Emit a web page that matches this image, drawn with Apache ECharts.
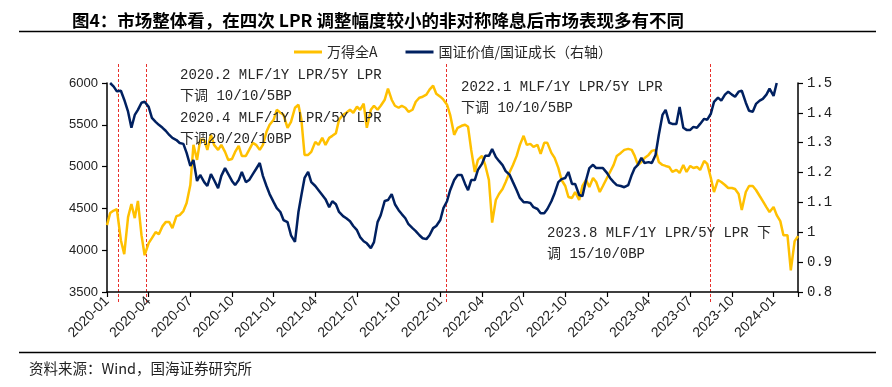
<!DOCTYPE html>
<html><head><meta charset="utf-8">
<script src="https://cdn.jsdelivr.net/npm/echarts@6/dist/echarts.min.js"></script>
<style>html,body{margin:0;padding:0;background:#fff}#c{width:892px;height:387px}</style>
</head><body><div id="c"></div>
<script>
// ---- data ----
const months = [
 '2020-01','2020-02','2020-03','2020-04','2020-05','2020-06','2020-07','2020-08','2020-09','2020-10','2020-11','2020-12',
 '2021-01','2021-02','2021-03','2021-04','2021-05','2021-06','2021-07','2021-08','2021-09','2021-10','2021-11','2021-12',
 '2022-01','2022-02','2022-03','2022-04','2022-05','2022-06','2022-07','2022-08','2022-09','2022-10','2022-11','2022-12',
 '2023-01','2023-02','2023-03','2023-04','2023-05','2023-06','2023-07','2023-08','2023-09','2023-10','2023-11','2023-12',
 '2024-01','2024-02'];
const weekDays = ['01','08','16','23'];
const dates = months.flatMap(m => weekDays.map(d => m + '-' + d));

// 万得全A (left axis)
const wdA = [
 4300,4444,4474,4490,4120,3952,4396,4552,4384,4590,
 4180,3940,4084,4144,4216,4192,4288,4336,4336,4264,
 4408,4420,4468,4564,4780,5260,5080,5320,5320,5200,
 5380,5260,5200,5260,5176,5080,5090,5176,5248,5128,
 5128,5200,5284,5260,5200,5260,5416,5500,5560,5680,
 5644,5620,5464,5536,5704,5740,5560,5140,5140,5176,
 5296,5260,5344,5260,5344,5368,5400,5560,5620,5644,
 5680,5644,5716,5680,5752,5464,5680,5728,5680,5728,
 5800,5932,5800,5728,5704,5728,5704,5656,5680,5776,
 5824,5836,5860,5920,5968,5872,5836,5800,5740,5620,
 5380,5464,5488,5500,5476,5200,4936,5080,5128,5020,
 4840,4330,4600,4672,4732,4816,4936,5020,5128,5260,
 5368,5260,5272,5236,5260,5152,5284,5284,5164,5104,
 4984,4840,4768,4636,4624,4696,4600,4768,4840,4756,
 4864,4816,4696,4768,4864,4936,5020,5128,5164,5200,
 5212,5200,5128,5020,5056,5104,5140,5188,5200,5056,
 5020,5008,4996,4936,4960,4924,5020,4936,5008,4984,
 4996,4960,5068,5032,4864,4696,4840,4816,4780,4744,
 4744,4732,4672,4480,4696,4768,4768,4720,4648,4588,
 4516,4456,4516,4420,4348,4180,4180,3760,4108,4168];

// 国证价值/国证成长 (right axis)
const gzRatio = [
 null,1.500,1.488,1.472,1.474,1.444,1.404,1.350,1.393,1.410,
 1.434,1.437,1.420,1.383,1.370,1.360,1.350,1.340,1.326,1.316,
 1.309,1.299,1.296,1.266,1.222,1.242,1.172,1.192,1.168,1.155,
 1.195,1.175,1.148,1.189,1.215,1.195,1.172,1.158,1.175,1.202,
 1.168,1.175,1.195,1.212,1.232,1.189,1.155,1.128,1.101,1.081,
 1.068,1.041,1.034,0.990,0.968,1.068,1.125,1.182,1.202,1.168,
 1.155,1.141,1.125,1.111,1.084,1.104,1.094,1.068,1.054,1.047,
 1.037,1.021,1.007,0.984,0.970,0.963,0.947,0.967,1.034,1.057,
 1.105,1.108,1.128,1.094,1.074,1.061,1.047,1.027,1.014,1.004,
 0.990,0.980,0.977,0.990,1.014,1.021,1.041,1.081,1.104,1.141,
 1.175,1.192,1.192,1.162,1.141,1.175,1.175,1.209,1.229,1.256,
 1.256,1.279,1.252,1.239,1.225,1.205,1.192,1.168,1.141,1.115,
 1.101,1.101,1.098,1.084,1.078,1.064,1.064,1.078,1.104,1.131,
 1.168,1.178,1.182,1.202,1.162,1.162,1.125,1.121,1.175,1.215,
 1.226,1.215,1.215,1.215,1.199,1.182,1.168,1.158,1.155,1.151,
 1.158,1.192,1.215,1.226,1.249,1.232,1.235,1.232,1.259,1.326,
 1.393,1.410,1.367,1.363,1.363,1.420,1.350,1.343,1.343,1.353,
 1.350,1.363,1.380,1.377,1.397,1.437,1.451,1.441,1.461,1.471,
 1.461,1.454,1.471,1.474,1.434,1.407,1.404,1.430,1.441,1.447,
 1.461,1.481,1.457,1.500,null,null,null,null,null,null];

const seriesNames = ['万得全A', '国证价值/国证成长（右轴）'];
const lprDates = ['2020-01-26', '2020-03-25', '2022-01-14', '2023-08-15'];
const xStart = '2020-01-01', xEnd = '2024-02-23';
const leftAxis = { min: 3500, max: 6000, interval: 500 };
const rightAxis = { min: 0.8, max: 1.5, interval: 0.1 };
const titleText = '图4：市场整体看，在四次 LPR 调整幅度较小的非对称降息后市场表现多有不同';
const sourceText = '资料来源：Wind，国海证券研究所';
const notes = [
 '2020.2 MLF/1Y LPR/5Y LPR', '下调 10/10/5BP',
 '2020.4 MLF/1Y LPR/5Y LPR', '下调20/20/10BP',
 '2022.1 MLF/1Y LPR/5Y LPR', '下调 10/10/5BP',
 '2023.8 MLF/1Y LPR/5Y LPR 下', '调 15/10/0BP'];

// ---- helpers ----
function toMonth(s) {
  const p = s.split('-').map(Number);
  const dim = new Date(p[0], p[1], 0).getDate();
  return (p[0] - 2020) * 12 + (p[1] - 1) + (p[2] - 1) / dim;
}
function monthLabel(v) {
  const y = 2020 + Math.floor(v / 12), m = (v % 12) + 1;
  return y + '-' + String(m).padStart(2, '0');
}

const chart = echarts.init(document.getElementById('c'), null, { renderer: 'canvas' });
const axisBlack = { show: true, lineStyle: { color: '#000', width: 1.5 } };
const tickBlack = { show: true, inside: false, length: 5, lineStyle: { color: '#000', width: 1.2 } };

chart.setOption({
  animation: false,
  backgroundColor: '#fff',
  title: {
    text: titleText, left: 67, top: 7,
    textStyle: { fontSize: 17.5, fontWeight: 'bold', color: '#000', fontFamily: '"Noto Sans CJK SC"' }
  },
  legend: {
    data: seriesNames, left: 289, top: 40, icon: 'rect', itemWidth: 28, itemHeight: 3, itemGap: 28,
    textStyle: { fontSize: 14, color: '#262626', fontFamily: '"Noto Sans CJK SC"' }
  },
  grid: { left: 107, right: 94, top: 83, bottom: 95, containLabel: false },
  xAxis: {
    type: 'value', min: toMonth(xStart), max: toMonth(xEnd), interval: 3,
    axisLine: axisBlack, axisTick: tickBlack, splitLine: { show: false },
    axisLabel: {
      rotate: 45, margin: 7, fontSize: 14, color: '#222', fontFamily: '"Liberation Sans", Arial',
      formatter: v => (Math.abs(v - Math.round(v)) < 1e-6 && Math.round(v) % 3 === 0) ? monthLabel(Math.round(v)) : ''
    }
  },
  yAxis: [
    {
      type: 'value', position: 'left', min: leftAxis.min, max: leftAxis.max, interval: leftAxis.interval,
      axisLine: axisBlack, axisTick: tickBlack, splitLine: { show: false },
      axisLabel: { fontSize: 13, color: '#222', margin: 9, fontFamily: '"Liberation Sans", Arial',
        formatter: v => String(Math.round(v)) }
    },
    {
      type: 'value', position: 'right', min: rightAxis.min, max: rightAxis.max, interval: rightAxis.interval,
      axisLine: axisBlack, axisTick: tickBlack, splitLine: { show: false },
      axisLabel: {
        fontSize: 14, color: '#222', margin: 9, fontFamily: '"Liberation Mono", monospace',
        formatter: v => { const r = Math.round(v * 10) / 10; return r === 1 ? '1' : r.toFixed(1); }
      }
    }
  ],
  series: [
    {
      name: seriesNames[0], type: 'line', yAxisIndex: 0, symbol: 'none', z: 3,
      lineStyle: { color: '#FFC000', width: 2.5 }, itemStyle: { color: '#FFC000' },
      data: dates.map((d, i) => [toMonth(d), wdA[i]]).filter(p => p[1] != null)
    },
    {
      name: seriesNames[1], type: 'line', yAxisIndex: 1, symbol: 'none', z: 4,
      lineStyle: { color: '#002060', width: 2.5 }, itemStyle: { color: '#002060' },
      data: dates.map((d, i) => [toMonth(d), gzRatio[i]]).filter(p => p[1] != null)
    }
  ]
});

// overlays: rules, LPR markers (positioned via the x scale), annotation texts, source
const notePos = [[180, 75], [180, 96], [180, 118], [180, 139], [461, 87], [461, 108], [547, 233], [547, 254]];
const g = [];
g.push({ type: 'line', shape: { x1: 19, y1: 31.5, x2: 876, y2: 31.5 }, style: { stroke: '#000', lineWidth: 1.5 } });
g.push({ type: 'line', shape: { x1: 19, y1: 352.5, x2: 876, y2: 352.5 }, style: { stroke: '#000', lineWidth: 1.5 } });
lprDates.forEach(d => {
  const x = Math.round(chart.convertToPixel({ xAxisIndex: 0 }, toMonth(d))) + 0.5;
  g.push({ type: 'line', shape: { x1: x, y1: 64, x2: x, y2: 302 }, style: { stroke: '#e8302c', lineWidth: 1, lineDash: [3, 2] } });
});
notes.forEach((t, i) => {
  g.push({ type: 'text', x: notePos[i][0], y: notePos[i][1], z: 10,
    style: { text: t, fill: '#262626', font: '14px "Liberation Mono", "Noto Sans CJK SC", monospace', verticalAlign: 'middle' } });
});
g.push({ type: 'text', x: 29, y: 368,
  style: { text: sourceText, fill: '#222', font: '14.5px "Noto Sans CJK SC"', verticalAlign: 'middle' } });
chart.setOption({ graphic: g });
</script>
</body></html>
